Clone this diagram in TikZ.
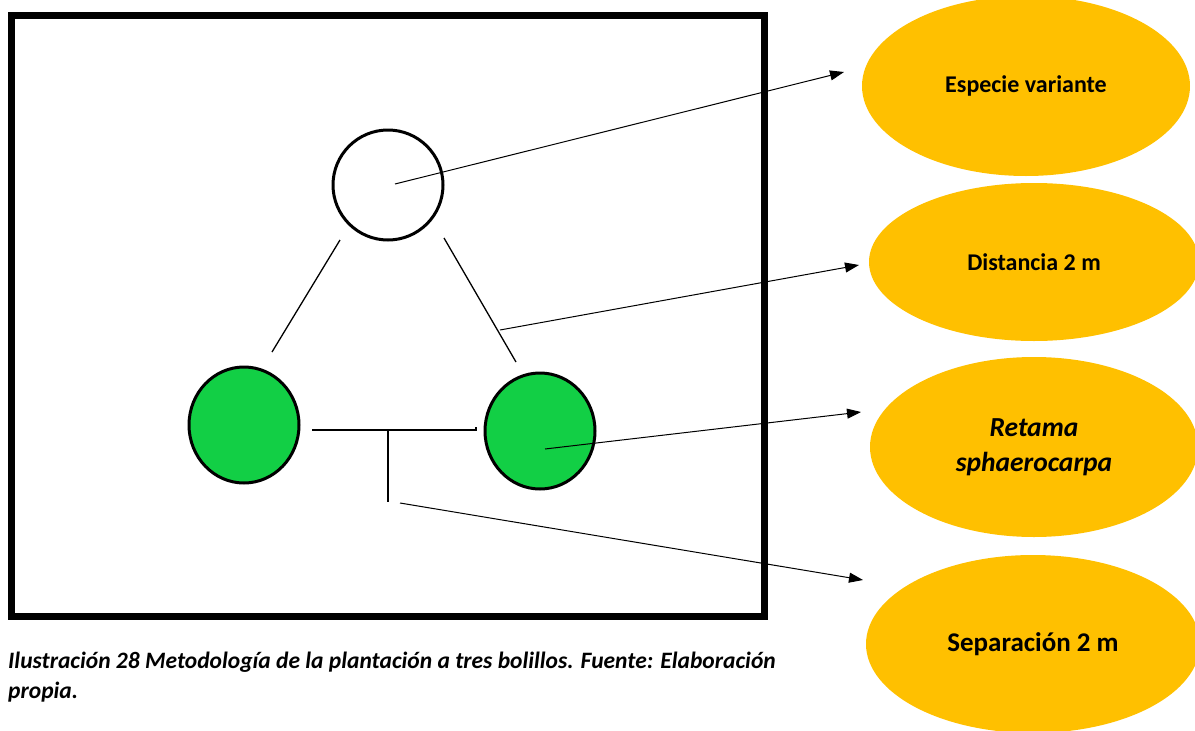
\documentclass[tikz,border=0pt]{standalone}
\usepackage{fontspec}
\setmainfont{Carlito}
\usepackage{tikz}
\usetikzlibrary{arrows.meta,shapes.geometric}
\definecolor{plantGreen}{RGB}{18,207,69}
\definecolor{labelGold}{RGB}{255,192,0}
\tikzset{
  plotFrame/.style={draw, line width=7pt},
  treeEmpty/.style={draw, circle, line width=3pt, fill=white, minimum size=110pt, inner sep=0pt},
  treeRetama/.style={draw, ellipse, line width=3pt, fill=plantGreen, minimum width=110pt, minimum height=116pt, inner sep=0pt},
  labelOval/.style={ellipse, fill=labelGold, align=center, font=\fontsize{24}{28}\selectfont\bfseries, inner sep=0pt},
  spacingLine/.style={line width=1.3pt},
  pointerArrow/.style={-{Triangle[length=14pt,width=10pt]}, line width=1pt},
  captionText/.style={anchor=north west, align=left, inner sep=0pt, font=\fontsize{23.5}{30}\selectfont\bfseries\itshape}
}
\begin{document}
\begin{tikzpicture}[x=1pt, y=-1pt]
      \useasboundingbox (0,0) rectangle (1195,731);
      \draw[plotFrame] (11.5,15.5) rectangle (764.5,616.5);
      \node[treeEmpty] (variant) at (388,185) {};
      \node[treeRetama] (retamaL) at (244,425) {};
      \node[treeRetama] (retamaR) at (540,431) {};
      \node[labelOval, minimum width=328pt, minimum height=180pt] (especie) at (1026,86) {Especie variante};
      \node[labelOval, minimum width=330pt, minimum height=158pt] (distancia) at (1034,262) {Distancia 2 m};
      \node[labelOval, minimum width=328pt, minimum height=180pt, font=\fontsize{27.5}{35}\selectfont\bfseries\itshape] (retama) at (1034,447) {Retama\\sphaerocarpa};
      \node[labelOval, minimum width=334pt, minimum height=178pt, font=\fontsize{27}{32}\selectfont\bfseries] (separacion) at (1033,644) {Separación 2 m};
      \node[captionText] (caption) at (8,652) {Ilustración 28 Metodología de la plantación a tres bolillos. Fuente: Elaboración\\propia.};
      % sides of the triangle
      \coordinate (leftTop) at (340,240);
      \coordinate (leftBot) at (272,352);
      \coordinate (rightTop) at (444,238);
      \coordinate (rightBot) at (516,362);
      \coordinate (rightMid) at (500,330);
      \coordinate (baseL) at (312,430);
      \coordinate (baseR) at (476,430);
      \coordinate (baseMid) at (388,430);
      \coordinate (baseFoot) at (388,502);
      \coordinate (sepStart) at (400,503);
      \coordinate (retamaDot) at (545,449);
      \draw[spacingLine] (leftTop) -- (leftBot);
      \draw[spacingLine] (rightTop) -- (rightBot);
      \draw[spacingLine] (baseL) -- (baseR) -- ++(0,-3);
      \draw[spacingLine] (baseMid) -- (baseFoot);
      % pointers to the labels
      \coordinate (tipEspecie) at (844,72);
      \coordinate (tipDistancia) at (859,265);
      \coordinate (tipRetama) at (861,412);
      \coordinate (tipSeparacion) at (863,580);
      \draw[pointerArrow] (variant.center) ++(7,-1) -- (tipEspecie);
      \draw[pointerArrow] (rightMid) -- (tipDistancia);
      \draw[pointerArrow] (retamaDot) -- (tipRetama);
      \draw[pointerArrow] (sepStart) -- (tipSeparacion);
\end{tikzpicture}
\end{document}
